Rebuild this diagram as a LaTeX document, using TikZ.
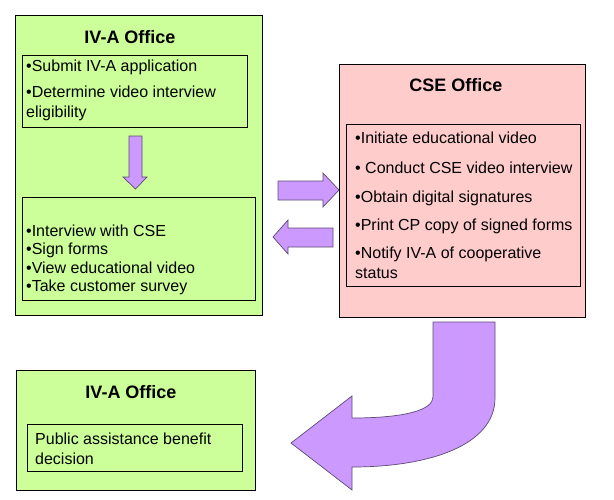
\documentclass[tikz,border=0pt]{standalone}
\usepackage{fontspec}
\setmainfont{Liberation Sans}
\usepackage{xcolor}
\usepackage{tikz}
\definecolor{officegreen}{HTML}{CCFF99}
\definecolor{officepink}{HTML}{FFCCCC}
\definecolor{arrowfill}{HTML}{CC99FF}
\definecolor{arrowline}{HTML}{5C4B73}
\tikzstyle{office} = [draw, line width=0.8pt, anchor=north west, inner sep=0pt]
\tikzstyle{list} = [draw, line width=0.6pt, anchor=north west, inner sep=0pt]
\tikzstyle{title} = [font=\fontsize{18}{20}\selectfont\bfseries, anchor=base, inner sep=0pt]
\tikzstyle{item} = [font=\fontsize{16}{20.5}\selectfont, anchor=base west, align=left, inner sep=0pt]
\tikzstyle{block} = [fill=arrowfill, draw=arrowline, line width=0.7pt]

\begin{document}
\begin{tikzpicture}[x=1pt, y=-1pt]
		\useasboundingbox (0,0) rectangle (614,499);
		
		\node (ivaTop) [office, fill=officegreen, minimum width=247pt, minimum height=300pt] at (15,15) {};
		\node (ivaTopTitle) [title] at (130,43.5) {IV-A Office};
		\node (apply) [list, minimum width=225pt, minimum height=72pt] at (22,55) {};
		\node (submit) [item] at (26,71) {•Submit IV-A application};
		\node (eligible) [item] at (26,117.5) {•Determine video interview\\eligibility};
		\node (visit) [list, minimum width=233pt, minimum height=103pt] at (22,197) {};
		\node (visitItems) [item, font=\fontsize{16}{18.5}\selectfont] at (26,291.5) {•Interview with CSE\\•Sign forms\\•View educational video\\•Take customer survey};
		
		\draw [block] (129,136) -- (142,136) -- (142,177) -- (147,177) -- (135.5,189) -- (123,177) -- (129,177) -- cycle;
		
		\node (cse) [office, fill=officepink, minimum width=246pt, minimum height=253pt] at (339,64) {};
		\node (cseTitle) [title] at (456,91.5) {CSE Office};
		\node (cseTasks) [list, minimum width=234pt, minimum height=162pt] at (346,124) {};
		\node (video) [item] at (355,143) {•Initiate educational video};
		\node (conduct) [item] at (355,173) {• Conduct CSE video interview};
		\node (signatures) [item] at (355,202) {•Obtain digital signatures};
		\node (print) [item] at (355,230) {•Print CP copy of signed forms};
		\node (notify) [item] at (355,278.5) {•Notify IV-A of cooperative\\status};
		
		\draw [block] (278,181) -- (323,181) -- (323,173) -- (339,190) -- (323,207) -- (323,200) -- (278,200) -- cycle;
		\draw [block] (333,228) -- (288,228) -- (288,220) -- (273,237) -- (288,254) -- (288,247) -- (333,247) -- cycle;
		
		\node (ivaEnd) [office, fill=officegreen, minimum width=239pt, minimum height=120pt] at (16,370) {};
		\node (ivaEndTitle) [title] at (131,398.5) {IV-A Office};
		\node (outcome) [list, minimum width=215pt, minimum height=47pt] at (27,424) {};
		\node (decision) [item] at (35,464.5) {Public assistance benefit\\decision};
		
		\draw [block] (433,322) -- (433,397) .. controls (433,410) and (405,418) .. (352,418) -- (352,396) -- (291,443) -- (352,490) -- (352,467) .. controls (430,467) and (495,445) .. (495,398) -- (495,322) -- cycle;
	\end{tikzpicture}
\end{document}
